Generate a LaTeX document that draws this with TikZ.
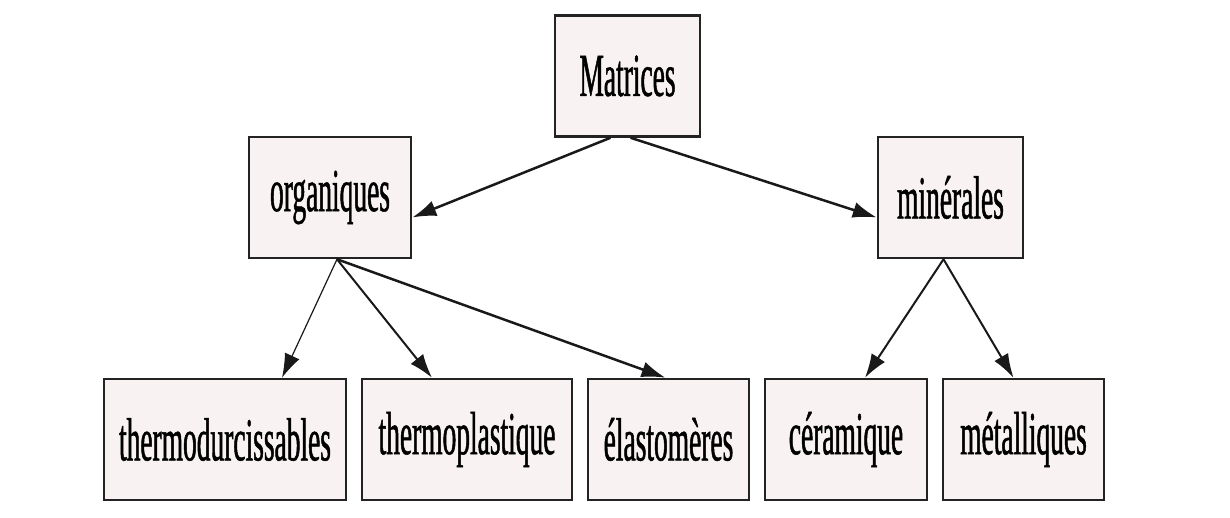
\documentclass[tikz,border=0pt]{standalone}
\usepackage{fontspec}
\setmainfont{Liberation Serif}[FakeStretch=0.45,FakeBold=0.8]
\usetikzlibrary{arrows.meta}
\definecolor{boxfill}{RGB}{248,242,242}
\definecolor{boxline}{RGB}{35,35,35}
\begin{document}
\begin{tikzpicture}[x=1pt,y=-1pt,
		box/.style={draw=boxline,line width=2.5pt,fill=boxfill,rectangle,minimum height=121pt,inner sep=0pt,font=\fontsize{61}{61}\selectfont},
		link/.style={draw=black!90,line width=2pt,-{Latex[length=24pt,width=16pt]}}]
			\useasboundingbox (0,0) rectangle (1230,518);
			\node[box,minimum width=145pt] (1) at (627.5,76) {Matrices};
			\node[box,minimum width=162pt] (2) at (330,197.5) {organiques};
			\node[box,minimum width=145pt] (3) at (950.5,197.5) {minérales};
			\node[box,minimum width=242pt] (4) at (225,439.5) {thermodurcissables};
			\node[box,minimum width=210pt] (5) at (467,439.5) {thermoplastique};
			\node[box,minimum width=161pt] (6) at (668.5,439.5) {élastomères};
			\node[box,minimum width=162pt] (7) at (846,439.5) {céramique};
			\node[box,minimum width=161pt] (8) at (1023.5,439.5) {métalliques};
			
			\draw [link,line width=2.5pt] ([xshift=-17pt]1.south)--([yshift=-20pt]2.east);
			\draw [link,line width=2.5pt] ([xshift=3pt]1.south)--([yshift=-20pt]3.west);
			\draw [link,line width=1.2pt] ([xshift=7pt]2.south)--([xshift=57pt]4.north);
			\draw [link] ([xshift=7pt]2.south)--([xshift=-35pt]5.north);
			\draw [link,line width=2.5pt] ([xshift=7pt]2.south)--([xshift=-3pt]6.north);
			\draw [link] ([xshift=-7pt]3.south)--([xshift=19pt]7.north);
			\draw [link] ([xshift=-7pt]3.south)--([xshift=-10pt]8.north);
		\end{tikzpicture}
\end{document}
